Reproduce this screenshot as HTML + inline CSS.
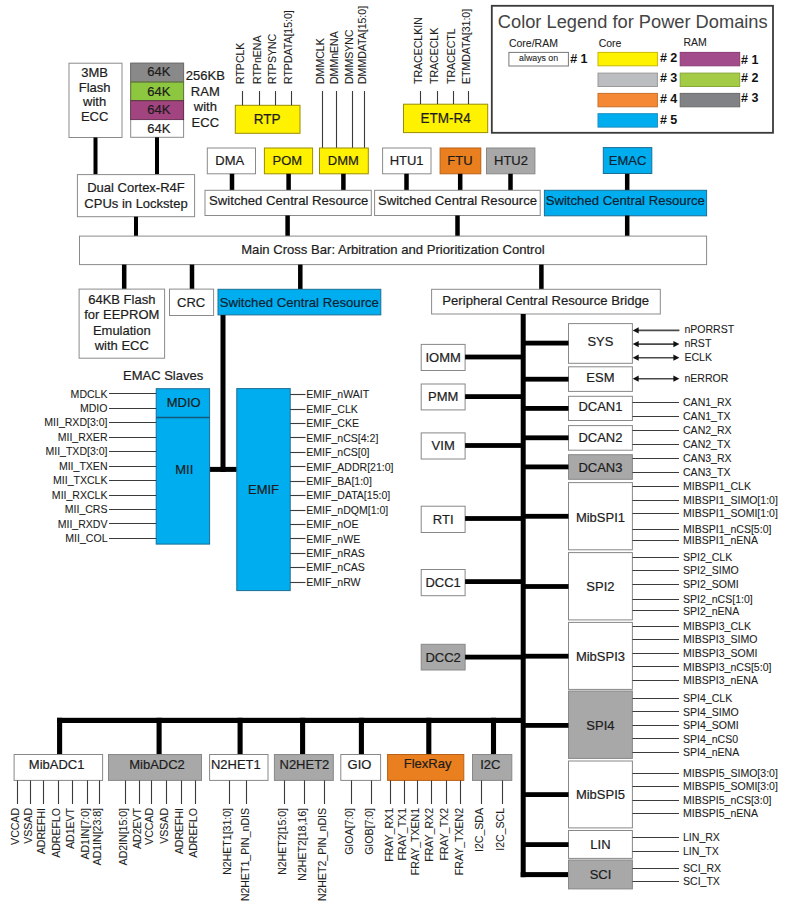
<!DOCTYPE html>
<html><head><meta charset="utf-8"><title>Block Diagram</title>
<style>
html,body{margin:0;padding:0;background:#fff;overflow:hidden;}
svg{display:block;font-family:"Liberation Sans",sans-serif;}
</style></head><body>
<svg width="788" height="905" viewBox="0 0 788 905">
<rect x="0" y="0" width="788" height="905" fill="#fff"/>
<rect x="69.0" y="63.2" width="53.0" height="74.3" fill="#ffffff" stroke="#8a8a8a" stroke-width="1"/>
<text transform="translate(94.60,76.60) scale(1.0,1.0)" font-size="13" text-anchor="middle" fill="#1c1c1c" stroke="#1c1c1c" stroke-width="0.2" >3MB</text>
<text transform="translate(94.60,91.60) scale(1.0,1.0)" font-size="13" text-anchor="middle" fill="#1c1c1c" stroke="#1c1c1c" stroke-width="0.2" >Flash</text>
<text transform="translate(94.60,106.00) scale(1.0,1.0)" font-size="13" text-anchor="middle" fill="#1c1c1c" stroke="#1c1c1c" stroke-width="0.2" >with</text>
<text transform="translate(94.60,121.00) scale(1.0,1.0)" font-size="13" text-anchor="middle" fill="#1c1c1c" stroke="#1c1c1c" stroke-width="0.2" >ECC</text>
<rect x="130.7" y="63.2" width="52.9" height="18.8" fill="#898989"/>
<rect x="130.7" y="82.0" width="52.9" height="18.7" fill="#8dc63f"/>
<rect x="130.7" y="100.7" width="52.9" height="18.9" fill="#a1447f"/>
<rect x="130.7" y="119.6" width="52.9" height="17.7" fill="#ffffff"/>
<rect x="130.7" y="63.2" width="52.9" height="74.1" fill="none" stroke="#8a8a8a" stroke-width="1"/>
<rect x="130.7" y="63.2" width="52.9" height="18.8" fill="none" stroke="#6a6a6a" stroke-width="0.9"/>
<rect x="130.7" y="82.0" width="52.9" height="18.7" fill="none" stroke="#5d7a2a" stroke-width="0.9"/>
<rect x="130.7" y="100.7" width="52.9" height="18.9" fill="none" stroke="#5e2449" stroke-width="0.9"/>
<text transform="translate(158.80,75.70) scale(1.0,1.0)" font-size="13" text-anchor="middle" fill="#1c1c1c" stroke="#1c1c1c" stroke-width="0.2" >64K</text>
<text transform="translate(158.80,95.60) scale(1.0,1.0)" font-size="13" text-anchor="middle" fill="#1c1c1c" stroke="#1c1c1c" stroke-width="0.2" >64K</text>
<text transform="translate(158.80,114.00) scale(1.0,1.0)" font-size="13" text-anchor="middle" fill="#1c1c1c" stroke="#1c1c1c" stroke-width="0.2" >64K</text>
<text transform="translate(158.80,132.60) scale(1.0,1.0)" font-size="13" text-anchor="middle" fill="#1c1c1c" stroke="#1c1c1c" stroke-width="0.2" >64K</text>
<text transform="translate(205.30,79.70) scale(1.0,1.0)" font-size="13" text-anchor="middle" fill="#1c1c1c" stroke="#1c1c1c" stroke-width="0.2" >256KB</text>
<text transform="translate(205.30,95.55) scale(1.0,1.0)" font-size="13" text-anchor="middle" fill="#1c1c1c" stroke="#1c1c1c" stroke-width="0.2" >RAM</text>
<text transform="translate(205.30,111.40) scale(1.0,1.0)" font-size="13" text-anchor="middle" fill="#1c1c1c" stroke="#1c1c1c" stroke-width="0.2" >with</text>
<text transform="translate(205.30,127.25) scale(1.0,1.0)" font-size="13" text-anchor="middle" fill="#1c1c1c" stroke="#1c1c1c" stroke-width="0.2" >ECC</text>
<rect x="93.50" y="137.5" width="4" height="37.1" fill="#000"/>
<rect x="155.00" y="137.3" width="4" height="37.3" fill="#000"/>
<rect x="77.4" y="174.6" width="117.2" height="42.1" fill="#ffffff" stroke="#8a8a8a" stroke-width="1"/>
<text transform="translate(136.00,191.70) scale(1.0,1.0)" font-size="13" text-anchor="middle" fill="#1c1c1c" stroke="#1c1c1c" stroke-width="0.2" >Dual Cortex-R4F</text>
<text transform="translate(136.00,207.90) scale(1.0,1.0)" font-size="13" text-anchor="middle" fill="#1c1c1c" stroke="#1c1c1c" stroke-width="0.2" >CPUs in Lockstep</text>
<rect x="134.00" y="216.7" width="4" height="19.4" fill="#000"/>
<rect x="235.3" y="105.3" width="64.7" height="28.0" fill="#fff200" stroke="#9a8c00" stroke-width="1"/>
<text transform="translate(267.20,123.80) scale(1.0,1.035)" font-size="13.5" text-anchor="middle" fill="#1c1c1c" stroke="#1c1c1c" stroke-width="0.2" >RTP</text>
<line x1="242.5" y1="91.0" x2="242.5" y2="105.3" stroke="#3a3a3a" stroke-width="1.1"/>
<text transform="translate(243.50,84.00) rotate(-90) scale(1,1.04)" font-size="10.55" text-anchor="start" fill="#1c1c1c" stroke="#1c1c1c" stroke-width="0.08">RTPCLK</text>
<line x1="259.5" y1="91.0" x2="259.5" y2="105.3" stroke="#3a3a3a" stroke-width="1.1"/>
<text transform="translate(260.50,84.00) rotate(-90) scale(1,1.04)" font-size="10.55" text-anchor="start" fill="#1c1c1c" stroke="#1c1c1c" stroke-width="0.08">RTPnENA</text>
<line x1="275.5" y1="91.0" x2="275.5" y2="105.3" stroke="#3a3a3a" stroke-width="1.1"/>
<text transform="translate(276.40,84.00) rotate(-90) scale(1,1.04)" font-size="10.55" text-anchor="start" fill="#1c1c1c" stroke="#1c1c1c" stroke-width="0.08">RTPSYNC</text>
<line x1="291.5" y1="91.0" x2="291.5" y2="105.3" stroke="#3a3a3a" stroke-width="1.1"/>
<text transform="translate(292.10,84.00) rotate(-90) scale(1,1.04)" font-size="10.55" text-anchor="start" fill="#1c1c1c" stroke="#1c1c1c" stroke-width="0.08">RTPDATA[15:0]</text>
<line x1="322.5" y1="91.0" x2="322.5" y2="148.0" stroke="#3a3a3a" stroke-width="1.1"/>
<text transform="translate(323.50,84.00) rotate(-90) scale(1,1.04)" font-size="10.55" text-anchor="start" fill="#1c1c1c" stroke="#1c1c1c" stroke-width="0.08">DMMCLK</text>
<line x1="336.5" y1="91.0" x2="336.5" y2="148.0" stroke="#3a3a3a" stroke-width="1.1"/>
<text transform="translate(337.70,84.00) rotate(-90) scale(1,1.04)" font-size="10.55" text-anchor="start" fill="#1c1c1c" stroke="#1c1c1c" stroke-width="0.08">DMMnENA</text>
<line x1="352.5" y1="91.0" x2="352.5" y2="148.0" stroke="#3a3a3a" stroke-width="1.1"/>
<text transform="translate(353.20,84.00) rotate(-90) scale(1,1.04)" font-size="10.55" text-anchor="start" fill="#1c1c1c" stroke="#1c1c1c" stroke-width="0.08">DMMSYNC</text>
<line x1="364.5" y1="91.0" x2="364.5" y2="148.0" stroke="#3a3a3a" stroke-width="1.1"/>
<text transform="translate(365.60,84.00) rotate(-90) scale(1,1.04)" font-size="10.55" text-anchor="start" fill="#1c1c1c" stroke="#1c1c1c" stroke-width="0.08">DMMDATA[15:0]</text>
<rect x="403.5" y="104.2" width="84.2" height="28.4" fill="#fff200" stroke="#9a8c00" stroke-width="1"/>
<text transform="translate(445.70,123.10) scale(1.0,1.035)" font-size="13.5" text-anchor="middle" fill="#1c1c1c" stroke="#1c1c1c" stroke-width="0.2" >ETM-R4</text>
<line x1="420.5" y1="91.0" x2="420.5" y2="104.0" stroke="#3a3a3a" stroke-width="1.1"/>
<text transform="translate(421.60,84.00) rotate(-90) scale(1,1.04)" font-size="10.55" text-anchor="start" fill="#1c1c1c" stroke="#1c1c1c" stroke-width="0.08">TRACECLKIN</text>
<line x1="437.5" y1="91.0" x2="437.5" y2="104.0" stroke="#3a3a3a" stroke-width="1.1"/>
<text transform="translate(438.40,84.00) rotate(-90) scale(1,1.04)" font-size="10.55" text-anchor="start" fill="#1c1c1c" stroke="#1c1c1c" stroke-width="0.08">TRACECLK</text>
<line x1="453.5" y1="91.0" x2="453.5" y2="104.0" stroke="#3a3a3a" stroke-width="1.1"/>
<text transform="translate(454.60,84.00) rotate(-90) scale(1,1.04)" font-size="10.55" text-anchor="start" fill="#1c1c1c" stroke="#1c1c1c" stroke-width="0.08">TRACECTL</text>
<line x1="468.5" y1="91.0" x2="468.5" y2="104.0" stroke="#3a3a3a" stroke-width="1.1"/>
<text transform="translate(469.80,84.00) rotate(-90) scale(1,1.04)" font-size="10.55" text-anchor="start" fill="#1c1c1c" stroke="#1c1c1c" stroke-width="0.08">ETMDATA[31:0]</text>
<rect x="491.8" y="5.8" width="281.2" height="127" fill="#fff" stroke="#3a3a3a" stroke-width="1.8"/>
<text transform="translate(497.80,28.10) scale(1.0,1.0)" font-size="18.25" text-anchor="start" fill="#444444" >Color Legend for Power Domains</text>
<text transform="translate(508.90,47.10) scale(1.0,1.04)" font-size="10.5" text-anchor="start" fill="#222" stroke="#222" stroke-width="0.08" >Core/RAM</text>
<text transform="translate(598.70,47.10) scale(1.0,1.04)" font-size="10.5" text-anchor="start" fill="#222" stroke="#222" stroke-width="0.08" >Core</text>
<text transform="translate(683.40,46.30) scale(1.0,1.04)" font-size="10.5" text-anchor="start" fill="#222" stroke="#222" stroke-width="0.08" >RAM</text>
<rect x="508.9" y="52.4" width="59.5" height="13.6" fill="#ffffff" stroke="#777" stroke-width="1"/>
<text transform="translate(538.60,61.40) scale(1.0,1.04)" font-size="8.8" text-anchor="middle" fill="#222" stroke="#222" stroke-width="0.08" >always on</text>
<text transform="translate(570.20,63.20) scale(1.0,1.0)" font-size="12.5" text-anchor="start" fill="#111" font-weight="bold"># 1</text>
<rect x="598.0" y="52.4" width="59.4" height="13.4" fill="#fff200" stroke="#c8b800" stroke-width="1"/>
<text transform="translate(659.90,62.40) scale(1.0,1.0)" font-size="12.5" text-anchor="start" fill="#111" font-weight="bold"># 2</text>
<rect x="598.0" y="73.1" width="59.4" height="13.4" fill="#bcbdc0" stroke="#9a9a9a" stroke-width="1"/>
<text transform="translate(659.90,82.20) scale(1.0,1.0)" font-size="12.5" text-anchor="start" fill="#111" font-weight="bold"># 3</text>
<rect x="598.0" y="93.4" width="59.4" height="13.4" fill="#f48835" stroke="#c8702a" stroke-width="1"/>
<text transform="translate(659.90,102.70) scale(1.0,1.0)" font-size="12.5" text-anchor="start" fill="#111" font-weight="bold"># 4</text>
<rect x="598.0" y="113.7" width="59.4" height="13.4" fill="#00aeef" stroke="#1b8cc0" stroke-width="1"/>
<text transform="translate(659.90,124.10) scale(1.0,1.0)" font-size="12.5" text-anchor="start" fill="#111" font-weight="bold"># 5</text>
<rect x="680.2" y="52.4" width="59.5" height="13.4" fill="#a34c8c" stroke="#8a3a74" stroke-width="1"/>
<text transform="translate(741.10,64.10) scale(1.0,1.0)" font-size="12.5" text-anchor="start" fill="#111" font-weight="bold"># 1</text>
<rect x="680.2" y="73.1" width="59.5" height="13.4" fill="#a4cb45" stroke="#86a838" stroke-width="1"/>
<text transform="translate(741.10,82.20) scale(1.0,1.0)" font-size="12.5" text-anchor="start" fill="#111" font-weight="bold"># 2</text>
<rect x="680.2" y="93.4" width="59.5" height="13.4" fill="#808285" stroke="#6a6a6a" stroke-width="1"/>
<text transform="translate(741.10,102.40) scale(1.0,1.0)" font-size="12.5" text-anchor="start" fill="#111" font-weight="bold"># 3</text>
<rect x="207.3" y="148.0" width="48.2" height="25.8" fill="#ffffff" stroke="#8a8a8a" stroke-width="1"/>
<text transform="translate(229.70,164.90) scale(1.0,1.035)" font-size="13" text-anchor="middle" fill="#1c1c1c" stroke="#1c1c1c" stroke-width="0.2" >DMA</text>
<rect x="264.4" y="148.0" width="48.2" height="25.8" fill="#fff200" stroke="#9a8c00" stroke-width="1"/>
<text transform="translate(287.40,164.90) scale(1.0,1.035)" font-size="13" text-anchor="middle" fill="#1c1c1c" stroke="#1c1c1c" stroke-width="0.2" >POM</text>
<rect x="319.5" y="148.0" width="48.8" height="25.8" fill="#fff200" stroke="#9a8c00" stroke-width="1"/>
<text transform="translate(343.30,164.90) scale(1.0,1.035)" font-size="13" text-anchor="middle" fill="#1c1c1c" stroke="#1c1c1c" stroke-width="0.2" >DMM</text>
<rect x="382.6" y="148.0" width="48.4" height="25.8" fill="#ffffff" stroke="#8a8a8a" stroke-width="1"/>
<text transform="translate(406.60,165.10) scale(1.0,1.035)" font-size="13" text-anchor="middle" fill="#1c1c1c" stroke="#1c1c1c" stroke-width="0.2" >HTU1</text>
<rect x="440.1" y="148.0" width="40.7" height="25.8" fill="#ea7f1f" stroke="#b86018" stroke-width="1"/>
<text transform="translate(459.90,165.10) scale(1.0,1.035)" font-size="13" text-anchor="middle" fill="#1c1c1c" stroke="#1c1c1c" stroke-width="0.2" >FTU</text>
<rect x="486.5" y="148.0" width="48.4" height="25.8" fill="#a8a8a8" stroke="#888" stroke-width="1"/>
<text transform="translate(511.00,165.10) scale(1.0,1.035)" font-size="13" text-anchor="middle" fill="#1c1c1c" stroke="#1c1c1c" stroke-width="0.2" >HTU2</text>
<rect x="603.3" y="147.6" width="48.5" height="25.9" fill="#00adee" stroke="#1a6e94" stroke-width="1"/>
<text transform="translate(627.50,164.80) scale(1.0,1.035)" font-size="13" text-anchor="middle" fill="#0c2232" stroke="#0c2232" stroke-width="0.2" >EMAC</text>
<rect x="229.75" y="173.8" width="4.5" height="16.5" fill="#000"/>
<rect x="286.35" y="173.8" width="4.5" height="16.5" fill="#000"/>
<rect x="341.15" y="173.8" width="4.5" height="16.5" fill="#000"/>
<rect x="404.25" y="173.8" width="4.5" height="16.5" fill="#000"/>
<rect x="457.95" y="173.8" width="4.5" height="16.5" fill="#000"/>
<rect x="508.25" y="173.8" width="4.5" height="16.5" fill="#000"/>
<rect x="624.95" y="173.8" width="4.5" height="16.5" fill="#000"/>
<rect x="205.0" y="190.3" width="166.3" height="25.2" fill="#ffffff" stroke="#8a8a8a" stroke-width="1"/>
<text transform="translate(288.70,205.10) scale(1.0,1.0)" font-size="13.15" text-anchor="middle" fill="#1c1c1c" stroke="#1c1c1c" stroke-width="0.2" >Switched Central Resource</text>
<rect x="374.6" y="190.3" width="165.6" height="25.2" fill="#ffffff" stroke="#8a8a8a" stroke-width="1"/>
<text transform="translate(457.50,205.10) scale(1.0,1.0)" font-size="13.15" text-anchor="middle" fill="#1c1c1c" stroke="#1c1c1c" stroke-width="0.2" >Switched Central Resource</text>
<rect x="544.4" y="190.3" width="162.2" height="25.5" fill="#00adee" stroke="#1a6e94" stroke-width="1"/>
<text transform="translate(625.30,205.00) scale(1.0,1.0)" font-size="13.15" text-anchor="middle" fill="#0c2232" stroke="#0c2232" stroke-width="0.2" >Switched Central Resource</text>
<rect x="285.35" y="215.5" width="4.5" height="20.6" fill="#000"/>
<rect x="455.25" y="215.5" width="4.5" height="20.6" fill="#000"/>
<rect x="624.95" y="215.5" width="4.5" height="20.6" fill="#000"/>
<rect x="79.5" y="236.1" width="627.1" height="28.5" fill="#ffffff" stroke="#8a8a8a" stroke-width="1"/>
<text transform="translate(241.20,254.00) scale(1.0,1.0)" font-size="13.1" text-anchor="start" fill="#1c1c1c" stroke="#1c1c1c" stroke-width="0.2" >Main Cross Bar: Arbitration and Prioritization Control</text>
<rect x="121.95" y="264.6" width="4.5" height="24.7" fill="#000"/>
<rect x="189.75" y="264.6" width="4.5" height="24.7" fill="#000"/>
<rect x="298.05" y="264.6" width="4.5" height="24.7" fill="#000"/>
<rect x="539.15" y="264.6" width="4.5" height="24.7" fill="#000"/>
<rect x="79.1" y="289.1" width="85.5" height="69.1" fill="#ffffff" stroke="#8a8a8a" stroke-width="1"/>
<text transform="translate(121.80,304.00) scale(1.0,1.0)" font-size="13" text-anchor="middle" fill="#1c1c1c" stroke="#1c1c1c" stroke-width="0.2" >64KB Flash</text>
<text transform="translate(121.80,319.33) scale(1.0,1.0)" font-size="13" text-anchor="middle" fill="#1c1c1c" stroke="#1c1c1c" stroke-width="0.2" >for EEPROM</text>
<text transform="translate(121.80,334.66) scale(1.0,1.0)" font-size="13" text-anchor="middle" fill="#1c1c1c" stroke="#1c1c1c" stroke-width="0.2" >Emulation</text>
<text transform="translate(121.80,349.99) scale(1.0,1.0)" font-size="13" text-anchor="middle" fill="#1c1c1c" stroke="#1c1c1c" stroke-width="0.2" >with ECC</text>
<rect x="169.5" y="289.1" width="44.1" height="26.4" fill="#ffffff" stroke="#8a8a8a" stroke-width="1"/>
<text transform="translate(191.10,307.30) scale(1.0,1.035)" font-size="13" text-anchor="middle" fill="#1c1c1c" stroke="#1c1c1c" stroke-width="0.2" >CRC</text>
<rect x="218.0" y="289.3" width="162.8" height="25.6" fill="#00adee" stroke="#1a6e94" stroke-width="1"/>
<text transform="translate(299.30,307.30) scale(1.0,1.0)" font-size="13.15" text-anchor="middle" fill="#0c2232" stroke="#0c2232" stroke-width="0.2" >Switched Central Resource</text>
<rect x="431.6" y="289.3" width="228.7" height="24.7" fill="#ffffff" stroke="#8a8a8a" stroke-width="1"/>
<text transform="translate(545.70,304.80) scale(1.0,1.0)" font-size="13.1" text-anchor="middle" fill="#1c1c1c" stroke="#1c1c1c" stroke-width="0.2" >Peripheral Central Resource Bridge</text>
<rect x="220.50" y="315.1" width="5" height="156.9" fill="#000"/>
<rect x="209.6" y="466.90" width="27.2" height="5" fill="#000"/>
<text transform="translate(123.00,379.80) scale(1.0,1.0)" font-size="13" text-anchor="start" fill="#1c1c1c" stroke="#1c1c1c" stroke-width="0.2" >EMAC Slaves</text>
<rect x="156.2" y="388.7" width="53.4" height="155.4" fill="#00adee" stroke="#1a6e94" stroke-width="1"/>
<line x1="156.2" y1="417.5" x2="209.6" y2="417.5" stroke="#155a78" stroke-width="1.5"/>
<text transform="translate(183.70,407.00) scale(1.0,1.0)" font-size="13" text-anchor="middle" fill="#1c1c1c" stroke="#1c1c1c" stroke-width="0.2" >MDIO</text>
<text transform="translate(184.30,474.20) scale(1.0,1.0)" font-size="13" text-anchor="middle" fill="#1c1c1c" stroke="#1c1c1c" stroke-width="0.2" >MII</text>
<line x1="109.0" y1="393.5" x2="156.2" y2="393.5" stroke="#3a3a3a" stroke-width="1.1"/>
<text transform="translate(107.50,397.50) scale(1.0,1.04)" font-size="10.55" text-anchor="end" fill="#1c1c1c" stroke="#1c1c1c" stroke-width="0.08" >MDCLK</text>
<line x1="109.0" y1="408.5" x2="156.2" y2="408.5" stroke="#3a3a3a" stroke-width="1.1"/>
<text transform="translate(107.50,411.96) scale(1.0,1.04)" font-size="10.55" text-anchor="end" fill="#1c1c1c" stroke="#1c1c1c" stroke-width="0.08" >MDIO</text>
<line x1="109.0" y1="422.5" x2="156.2" y2="422.5" stroke="#3a3a3a" stroke-width="1.1"/>
<text transform="translate(107.50,426.42) scale(1.0,1.04)" font-size="10.55" text-anchor="end" fill="#1c1c1c" stroke="#1c1c1c" stroke-width="0.08" >MII_RXD[3:0]</text>
<line x1="109.0" y1="437.5" x2="156.2" y2="437.5" stroke="#3a3a3a" stroke-width="1.1"/>
<text transform="translate(107.50,440.88) scale(1.0,1.04)" font-size="10.55" text-anchor="end" fill="#1c1c1c" stroke="#1c1c1c" stroke-width="0.08" >MII_RXER</text>
<line x1="109.0" y1="451.5" x2="156.2" y2="451.5" stroke="#3a3a3a" stroke-width="1.1"/>
<text transform="translate(107.50,455.34) scale(1.0,1.04)" font-size="10.55" text-anchor="end" fill="#1c1c1c" stroke="#1c1c1c" stroke-width="0.08" >MII_TXD[3:0]</text>
<line x1="109.0" y1="466.5" x2="156.2" y2="466.5" stroke="#3a3a3a" stroke-width="1.1"/>
<text transform="translate(107.50,469.80) scale(1.0,1.04)" font-size="10.55" text-anchor="end" fill="#1c1c1c" stroke="#1c1c1c" stroke-width="0.08" >MII_TXEN</text>
<line x1="109.0" y1="480.5" x2="156.2" y2="480.5" stroke="#3a3a3a" stroke-width="1.1"/>
<text transform="translate(107.50,484.26) scale(1.0,1.04)" font-size="10.55" text-anchor="end" fill="#1c1c1c" stroke="#1c1c1c" stroke-width="0.08" >MII_TXCLK</text>
<line x1="109.0" y1="495.5" x2="156.2" y2="495.5" stroke="#3a3a3a" stroke-width="1.1"/>
<text transform="translate(107.50,498.72) scale(1.0,1.04)" font-size="10.55" text-anchor="end" fill="#1c1c1c" stroke="#1c1c1c" stroke-width="0.08" >MII_RXCLK</text>
<line x1="109.0" y1="509.5" x2="156.2" y2="509.5" stroke="#3a3a3a" stroke-width="1.1"/>
<text transform="translate(107.50,513.18) scale(1.0,1.04)" font-size="10.55" text-anchor="end" fill="#1c1c1c" stroke="#1c1c1c" stroke-width="0.08" >MII_CRS</text>
<line x1="109.0" y1="523.5" x2="156.2" y2="523.5" stroke="#3a3a3a" stroke-width="1.1"/>
<text transform="translate(107.50,527.64) scale(1.0,1.04)" font-size="10.55" text-anchor="end" fill="#1c1c1c" stroke="#1c1c1c" stroke-width="0.08" >MII_RXDV</text>
<line x1="109.0" y1="538.5" x2="156.2" y2="538.5" stroke="#3a3a3a" stroke-width="1.1"/>
<text transform="translate(107.50,542.10) scale(1.0,1.04)" font-size="10.55" text-anchor="end" fill="#1c1c1c" stroke="#1c1c1c" stroke-width="0.08" >MII_COL</text>
<rect x="236.8" y="388.6" width="53.4" height="202.0" fill="#00adee" stroke="#1a6e94" stroke-width="1"/>
<text transform="translate(263.50,493.80) scale(1.0,1.0)" font-size="13" text-anchor="middle" fill="#1c1c1c" stroke="#1c1c1c" stroke-width="0.2" >EMIF</text>
<line x1="290.2" y1="394.5" x2="305.5" y2="394.5" stroke="#3a3a3a" stroke-width="1.1"/>
<text transform="translate(306.30,398.40) scale(1.0,1.04)" font-size="10.55" text-anchor="start" fill="#1c1c1c" stroke="#1c1c1c" stroke-width="0.08" >EMIF_nWAIT</text>
<line x1="290.2" y1="409.5" x2="305.5" y2="409.5" stroke="#3a3a3a" stroke-width="1.1"/>
<text transform="translate(306.30,412.82) scale(1.0,1.04)" font-size="10.55" text-anchor="start" fill="#1c1c1c" stroke="#1c1c1c" stroke-width="0.08" >EMIF_CLK</text>
<line x1="290.2" y1="423.5" x2="305.5" y2="423.5" stroke="#3a3a3a" stroke-width="1.1"/>
<text transform="translate(306.30,427.24) scale(1.0,1.04)" font-size="10.55" text-anchor="start" fill="#1c1c1c" stroke="#1c1c1c" stroke-width="0.08" >EMIF_CKE</text>
<line x1="290.2" y1="437.5" x2="305.5" y2="437.5" stroke="#3a3a3a" stroke-width="1.1"/>
<text transform="translate(306.30,441.66) scale(1.0,1.04)" font-size="10.55" text-anchor="start" fill="#1c1c1c" stroke="#1c1c1c" stroke-width="0.08" >EMIF_nCS[4:2]</text>
<line x1="290.2" y1="452.5" x2="305.5" y2="452.5" stroke="#3a3a3a" stroke-width="1.1"/>
<text transform="translate(306.30,456.08) scale(1.0,1.04)" font-size="10.55" text-anchor="start" fill="#1c1c1c" stroke="#1c1c1c" stroke-width="0.08" >EMIF_nCS[0]</text>
<line x1="290.2" y1="466.5" x2="305.5" y2="466.5" stroke="#3a3a3a" stroke-width="1.1"/>
<text transform="translate(306.30,470.50) scale(1.0,1.04)" font-size="10.55" text-anchor="start" fill="#1c1c1c" stroke="#1c1c1c" stroke-width="0.08" >EMIF_ADDR[21:0]</text>
<line x1="290.2" y1="481.5" x2="305.5" y2="481.5" stroke="#3a3a3a" stroke-width="1.1"/>
<text transform="translate(306.30,484.92) scale(1.0,1.04)" font-size="10.55" text-anchor="start" fill="#1c1c1c" stroke="#1c1c1c" stroke-width="0.08" >EMIF_BA[1:0]</text>
<line x1="290.2" y1="495.5" x2="305.5" y2="495.5" stroke="#3a3a3a" stroke-width="1.1"/>
<text transform="translate(306.30,499.34) scale(1.0,1.04)" font-size="10.55" text-anchor="start" fill="#1c1c1c" stroke="#1c1c1c" stroke-width="0.08" >EMIF_DATA[15:0]</text>
<line x1="290.2" y1="510.5" x2="305.5" y2="510.5" stroke="#3a3a3a" stroke-width="1.1"/>
<text transform="translate(306.30,513.76) scale(1.0,1.04)" font-size="10.55" text-anchor="start" fill="#1c1c1c" stroke="#1c1c1c" stroke-width="0.08" >EMIF_nDQM[1:0]</text>
<line x1="290.2" y1="524.5" x2="305.5" y2="524.5" stroke="#3a3a3a" stroke-width="1.1"/>
<text transform="translate(306.30,528.18) scale(1.0,1.04)" font-size="10.55" text-anchor="start" fill="#1c1c1c" stroke="#1c1c1c" stroke-width="0.08" >EMIF_nOE</text>
<line x1="290.2" y1="538.5" x2="305.5" y2="538.5" stroke="#3a3a3a" stroke-width="1.1"/>
<text transform="translate(306.30,542.60) scale(1.0,1.04)" font-size="10.55" text-anchor="start" fill="#1c1c1c" stroke="#1c1c1c" stroke-width="0.08" >EMIF_nWE</text>
<line x1="290.2" y1="553.5" x2="305.5" y2="553.5" stroke="#3a3a3a" stroke-width="1.1"/>
<text transform="translate(306.30,557.02) scale(1.0,1.04)" font-size="10.55" text-anchor="start" fill="#1c1c1c" stroke="#1c1c1c" stroke-width="0.08" >EMIF_nRAS</text>
<line x1="290.2" y1="567.5" x2="305.5" y2="567.5" stroke="#3a3a3a" stroke-width="1.1"/>
<text transform="translate(306.30,571.44) scale(1.0,1.04)" font-size="10.55" text-anchor="start" fill="#1c1c1c" stroke="#1c1c1c" stroke-width="0.08" >EMIF_nCAS</text>
<line x1="290.2" y1="582.5" x2="305.5" y2="582.5" stroke="#3a3a3a" stroke-width="1.1"/>
<text transform="translate(306.30,585.86) scale(1.0,1.04)" font-size="10.55" text-anchor="start" fill="#1c1c1c" stroke="#1c1c1c" stroke-width="0.08" >EMIF_nRW</text>
<rect x="520.70" y="314.0" width="5.0" height="563.2" fill="#000"/>
<rect x="520.7" y="872.10" width="47.8" height="5.0" fill="#000"/>
<rect x="421.2" y="344.4" width="43.9" height="26.1" fill="#ffffff" stroke="#888" stroke-width="1"/>
<text transform="translate(443.15,362.10) scale(1.0,1.035)" font-size="13" text-anchor="middle" fill="#1c1c1c" stroke="#1c1c1c" stroke-width="0.2" >IOMM</text>
<rect x="465.1" y="354.60" width="58.1" height="4.8" fill="#000"/>
<rect x="421.2" y="384.0" width="43.9" height="25.9" fill="#ffffff" stroke="#888" stroke-width="1"/>
<text transform="translate(443.15,400.80) scale(1.0,1.035)" font-size="13" text-anchor="middle" fill="#1c1c1c" stroke="#1c1c1c" stroke-width="0.2" >PMM</text>
<rect x="465.1" y="394.20" width="58.1" height="4.8" fill="#000"/>
<rect x="421.2" y="432.9" width="43.9" height="26.1" fill="#ffffff" stroke="#888" stroke-width="1"/>
<text transform="translate(443.15,450.30) scale(1.0,1.035)" font-size="13" text-anchor="middle" fill="#1c1c1c" stroke="#1c1c1c" stroke-width="0.2" >VIM</text>
<rect x="465.1" y="443.10" width="58.1" height="4.8" fill="#000"/>
<rect x="421.2" y="506.2" width="43.9" height="26.3" fill="#ffffff" stroke="#888" stroke-width="1"/>
<text transform="translate(443.15,523.80) scale(1.0,1.035)" font-size="13" text-anchor="middle" fill="#1c1c1c" stroke="#1c1c1c" stroke-width="0.2" >RTI</text>
<rect x="465.1" y="516.10" width="58.1" height="4.8" fill="#000"/>
<rect x="421.2" y="569.5" width="43.9" height="26.2" fill="#ffffff" stroke="#888" stroke-width="1"/>
<text transform="translate(443.15,587.10) scale(1.0,1.035)" font-size="13" text-anchor="middle" fill="#1c1c1c" stroke="#1c1c1c" stroke-width="0.2" >DCC1</text>
<rect x="465.1" y="579.20" width="58.1" height="4.8" fill="#000"/>
<rect x="421.2" y="644.3" width="43.9" height="25.7" fill="#a8a8a8" stroke="#888" stroke-width="1"/>
<text transform="translate(443.15,661.60) scale(1.0,1.035)" font-size="13" text-anchor="middle" fill="#1c1c1c" stroke="#1c1c1c" stroke-width="0.2" >DCC2</text>
<rect x="465.1" y="654.70" width="58.1" height="4.8" fill="#000"/>
<rect x="568.5" y="323.6" width="63.9" height="39.7" fill="#ffffff" stroke="#888" stroke-width="1"/>
<text transform="translate(600.45,345.50) scale(1.0,1.035)" font-size="13" text-anchor="middle" fill="#1c1c1c" stroke="#1c1c1c" stroke-width="0.2" >SYS</text>
<rect x="523.2" y="340.70" width="45.3" height="4.8" fill="#000"/>
<rect x="568.5" y="366.8" width="63.9" height="24.6" fill="#ffffff" stroke="#888" stroke-width="1"/>
<text transform="translate(600.45,382.00) scale(1.0,1.035)" font-size="13" text-anchor="middle" fill="#1c1c1c" stroke="#1c1c1c" stroke-width="0.2" >ESM</text>
<rect x="523.2" y="376.80" width="45.3" height="4.8" fill="#000"/>
<rect x="568.5" y="396.3" width="63.9" height="24.2" fill="#ffffff" stroke="#888" stroke-width="1"/>
<text transform="translate(600.45,410.80) scale(1.0,1.035)" font-size="13" text-anchor="middle" fill="#1c1c1c" stroke="#1c1c1c" stroke-width="0.2" >DCAN1</text>
<rect x="523.2" y="406.00" width="45.3" height="4.8" fill="#000"/>
<line x1="632.4" y1="402.5" x2="679.0" y2="402.5" stroke="#3a3a3a" stroke-width="1.1"/>
<text transform="translate(683.00,406.10) scale(1.0,1.04)" font-size="10.55" text-anchor="start" fill="#1c1c1c" stroke="#1c1c1c" stroke-width="0.08" >CAN1_RX</text>
<line x1="632.4" y1="416.5" x2="679.0" y2="416.5" stroke="#3a3a3a" stroke-width="1.1"/>
<text transform="translate(683.00,419.70) scale(1.0,1.04)" font-size="10.55" text-anchor="start" fill="#1c1c1c" stroke="#1c1c1c" stroke-width="0.08" >CAN1_TX</text>
<rect x="568.5" y="425.6" width="63.9" height="24.6" fill="#ffffff" stroke="#888" stroke-width="1"/>
<text transform="translate(600.45,441.90) scale(1.0,1.035)" font-size="13" text-anchor="middle" fill="#1c1c1c" stroke="#1c1c1c" stroke-width="0.2" >DCAN2</text>
<rect x="523.2" y="435.40" width="45.3" height="4.8" fill="#000"/>
<line x1="632.4" y1="430.5" x2="679.0" y2="430.5" stroke="#3a3a3a" stroke-width="1.1"/>
<text transform="translate(683.00,433.90) scale(1.0,1.04)" font-size="10.55" text-anchor="start" fill="#1c1c1c" stroke="#1c1c1c" stroke-width="0.08" >CAN2_RX</text>
<line x1="632.4" y1="444.5" x2="679.0" y2="444.5" stroke="#3a3a3a" stroke-width="1.1"/>
<text transform="translate(683.00,447.90) scale(1.0,1.04)" font-size="10.55" text-anchor="start" fill="#1c1c1c" stroke="#1c1c1c" stroke-width="0.08" >CAN2_TX</text>
<rect x="568.5" y="454.7" width="63.9" height="24.6" fill="#a8a8a8" stroke="#888" stroke-width="1"/>
<text transform="translate(600.45,471.50) scale(1.0,1.035)" font-size="13" text-anchor="middle" fill="#1c1c1c" stroke="#1c1c1c" stroke-width="0.2" >DCAN3</text>
<rect x="523.2" y="464.50" width="45.3" height="4.8" fill="#000"/>
<line x1="632.4" y1="458.5" x2="679.0" y2="458.5" stroke="#3a3a3a" stroke-width="1.1"/>
<text transform="translate(683.00,462.20) scale(1.0,1.04)" font-size="10.55" text-anchor="start" fill="#1c1c1c" stroke="#1c1c1c" stroke-width="0.08" >CAN3_RX</text>
<line x1="632.4" y1="472.5" x2="679.0" y2="472.5" stroke="#3a3a3a" stroke-width="1.1"/>
<text transform="translate(683.00,476.10) scale(1.0,1.04)" font-size="10.55" text-anchor="start" fill="#1c1c1c" stroke="#1c1c1c" stroke-width="0.08" >CAN3_TX</text>
<rect x="568.5" y="482.6" width="63.9" height="67.2" fill="#ffffff" stroke="#888" stroke-width="1"/>
<text transform="translate(600.45,521.50) scale(1.0,1.035)" font-size="13" text-anchor="middle" fill="#1c1c1c" stroke="#1c1c1c" stroke-width="0.2" >MibSPI1</text>
<rect x="523.2" y="513.90" width="45.3" height="4.8" fill="#000"/>
<line x1="632.4" y1="486.5" x2="679.0" y2="486.5" stroke="#3a3a3a" stroke-width="1.1"/>
<text transform="translate(683.00,490.30) scale(1.0,1.04)" font-size="10.55" text-anchor="start" fill="#1c1c1c" stroke="#1c1c1c" stroke-width="0.08" >MIBSPI1_CLK</text>
<line x1="632.4" y1="500.5" x2="679.0" y2="500.5" stroke="#3a3a3a" stroke-width="1.1"/>
<text transform="translate(683.00,503.80) scale(1.0,1.04)" font-size="10.55" text-anchor="start" fill="#1c1c1c" stroke="#1c1c1c" stroke-width="0.08" >MIBSPI1_SIMO[1:0]</text>
<line x1="632.4" y1="513.5" x2="679.0" y2="513.5" stroke="#3a3a3a" stroke-width="1.1"/>
<text transform="translate(683.00,517.40) scale(1.0,1.04)" font-size="10.55" text-anchor="start" fill="#1c1c1c" stroke="#1c1c1c" stroke-width="0.08" >MIBSPI1_SOMI[1:0]</text>
<line x1="632.4" y1="529.5" x2="679.0" y2="529.5" stroke="#3a3a3a" stroke-width="1.1"/>
<text transform="translate(683.00,533.10) scale(1.0,1.04)" font-size="10.55" text-anchor="start" fill="#1c1c1c" stroke="#1c1c1c" stroke-width="0.08" >MIBSPI1_nCS[5:0]</text>
<line x1="632.4" y1="540.5" x2="679.0" y2="540.5" stroke="#3a3a3a" stroke-width="1.1"/>
<text transform="translate(683.00,544.30) scale(1.0,1.04)" font-size="10.55" text-anchor="start" fill="#1c1c1c" stroke="#1c1c1c" stroke-width="0.08" >MIBSPI1_nENA</text>
<rect x="568.5" y="552.6" width="63.9" height="67.3" fill="#ffffff" stroke="#888" stroke-width="1"/>
<text transform="translate(600.45,590.50) scale(1.0,1.035)" font-size="13" text-anchor="middle" fill="#1c1c1c" stroke="#1c1c1c" stroke-width="0.2" >SPI2</text>
<rect x="523.2" y="584.10" width="45.3" height="4.8" fill="#000"/>
<line x1="632.4" y1="557.5" x2="679.0" y2="557.5" stroke="#3a3a3a" stroke-width="1.1"/>
<text transform="translate(683.00,560.70) scale(1.0,1.04)" font-size="10.55" text-anchor="start" fill="#1c1c1c" stroke="#1c1c1c" stroke-width="0.08" >SPI2_CLK</text>
<line x1="632.4" y1="570.5" x2="679.0" y2="570.5" stroke="#3a3a3a" stroke-width="1.1"/>
<text transform="translate(683.00,573.70) scale(1.0,1.04)" font-size="10.55" text-anchor="start" fill="#1c1c1c" stroke="#1c1c1c" stroke-width="0.08" >SPI2_SIMO</text>
<line x1="632.4" y1="584.5" x2="679.0" y2="584.5" stroke="#3a3a3a" stroke-width="1.1"/>
<text transform="translate(683.00,587.70) scale(1.0,1.04)" font-size="10.55" text-anchor="start" fill="#1c1c1c" stroke="#1c1c1c" stroke-width="0.08" >SPI2_SOMI</text>
<line x1="632.4" y1="599.5" x2="679.0" y2="599.5" stroke="#3a3a3a" stroke-width="1.1"/>
<text transform="translate(683.00,603.10) scale(1.0,1.04)" font-size="10.55" text-anchor="start" fill="#1c1c1c" stroke="#1c1c1c" stroke-width="0.08" >SPI2_nCS[1:0]</text>
<line x1="632.4" y1="610.5" x2="679.0" y2="610.5" stroke="#3a3a3a" stroke-width="1.1"/>
<text transform="translate(683.00,614.50) scale(1.0,1.04)" font-size="10.55" text-anchor="start" fill="#1c1c1c" stroke="#1c1c1c" stroke-width="0.08" >SPI2_nENA</text>
<rect x="568.5" y="622.4" width="63.9" height="67.0" fill="#ffffff" stroke="#888" stroke-width="1"/>
<text transform="translate(600.45,660.50) scale(1.0,1.035)" font-size="13" text-anchor="middle" fill="#1c1c1c" stroke="#1c1c1c" stroke-width="0.2" >MibSPI3</text>
<rect x="523.2" y="653.80" width="45.3" height="4.8" fill="#000"/>
<line x1="632.4" y1="626.5" x2="679.0" y2="626.5" stroke="#3a3a3a" stroke-width="1.1"/>
<text transform="translate(683.00,630.00) scale(1.0,1.04)" font-size="10.55" text-anchor="start" fill="#1c1c1c" stroke="#1c1c1c" stroke-width="0.08" >MIBSPI3_CLK</text>
<line x1="632.4" y1="639.5" x2="679.0" y2="639.5" stroke="#3a3a3a" stroke-width="1.1"/>
<text transform="translate(683.00,643.30) scale(1.0,1.04)" font-size="10.55" text-anchor="start" fill="#1c1c1c" stroke="#1c1c1c" stroke-width="0.08" >MIBSPI3_SIMO</text>
<line x1="632.4" y1="653.5" x2="679.0" y2="653.5" stroke="#3a3a3a" stroke-width="1.1"/>
<text transform="translate(683.00,656.90) scale(1.0,1.04)" font-size="10.55" text-anchor="start" fill="#1c1c1c" stroke="#1c1c1c" stroke-width="0.08" >MIBSPI3_SOMI</text>
<line x1="632.4" y1="666.5" x2="679.0" y2="666.5" stroke="#3a3a3a" stroke-width="1.1"/>
<text transform="translate(683.00,670.60) scale(1.0,1.04)" font-size="10.55" text-anchor="start" fill="#1c1c1c" stroke="#1c1c1c" stroke-width="0.08" >MIBSPI3_nCS[5:0]</text>
<line x1="632.4" y1="680.5" x2="679.0" y2="680.5" stroke="#3a3a3a" stroke-width="1.1"/>
<text transform="translate(683.00,684.00) scale(1.0,1.04)" font-size="10.55" text-anchor="start" fill="#1c1c1c" stroke="#1c1c1c" stroke-width="0.08" >MIBSPI3_nENA</text>
<rect x="568.5" y="691.0" width="63.9" height="67.4" fill="#a8a8a8" stroke="#888" stroke-width="1"/>
<text transform="translate(600.45,730.00) scale(1.0,1.035)" font-size="13" text-anchor="middle" fill="#1c1c1c" stroke="#1c1c1c" stroke-width="0.2" >SPI4</text>
<rect x="523.2" y="723.00" width="45.3" height="4.8" fill="#000"/>
<line x1="632.4" y1="698.5" x2="679.0" y2="698.5" stroke="#3a3a3a" stroke-width="1.1"/>
<text transform="translate(683.00,702.30) scale(1.0,1.04)" font-size="10.55" text-anchor="start" fill="#1c1c1c" stroke="#1c1c1c" stroke-width="0.08" >SPI4_CLK</text>
<line x1="632.4" y1="711.5" x2="679.0" y2="711.5" stroke="#3a3a3a" stroke-width="1.1"/>
<text transform="translate(683.00,715.60) scale(1.0,1.04)" font-size="10.55" text-anchor="start" fill="#1c1c1c" stroke="#1c1c1c" stroke-width="0.08" >SPI4_SIMO</text>
<line x1="632.4" y1="725.5" x2="679.0" y2="725.5" stroke="#3a3a3a" stroke-width="1.1"/>
<text transform="translate(683.00,729.20) scale(1.0,1.04)" font-size="10.55" text-anchor="start" fill="#1c1c1c" stroke="#1c1c1c" stroke-width="0.08" >SPI4_SOMI</text>
<line x1="632.4" y1="738.5" x2="679.0" y2="738.5" stroke="#3a3a3a" stroke-width="1.1"/>
<text transform="translate(683.00,742.60) scale(1.0,1.04)" font-size="10.55" text-anchor="start" fill="#1c1c1c" stroke="#1c1c1c" stroke-width="0.08" >SPI4_nCS0</text>
<line x1="632.4" y1="752.5" x2="679.0" y2="752.5" stroke="#3a3a3a" stroke-width="1.1"/>
<text transform="translate(683.00,756.10) scale(1.0,1.04)" font-size="10.55" text-anchor="start" fill="#1c1c1c" stroke="#1c1c1c" stroke-width="0.08" >SPI4_nENA</text>
<rect x="568.5" y="761.0" width="63.9" height="66.9" fill="#ffffff" stroke="#888" stroke-width="1"/>
<text transform="translate(600.45,798.60) scale(1.0,1.035)" font-size="13" text-anchor="middle" fill="#1c1c1c" stroke="#1c1c1c" stroke-width="0.2" >MibSPI5</text>
<rect x="523.2" y="792.20" width="45.3" height="4.8" fill="#000"/>
<line x1="632.4" y1="773.5" x2="679.0" y2="773.5" stroke="#3a3a3a" stroke-width="1.1"/>
<text transform="translate(683.00,776.70) scale(1.0,1.04)" font-size="10.55" text-anchor="start" fill="#1c1c1c" stroke="#1c1c1c" stroke-width="0.08" >MIBSPI5_SIMO[3:0]</text>
<line x1="632.4" y1="786.5" x2="679.0" y2="786.5" stroke="#3a3a3a" stroke-width="1.1"/>
<text transform="translate(683.00,789.90) scale(1.0,1.04)" font-size="10.55" text-anchor="start" fill="#1c1c1c" stroke="#1c1c1c" stroke-width="0.08" >MIBSPI5_SOMI[3:0]</text>
<line x1="632.4" y1="800.5" x2="679.0" y2="800.5" stroke="#3a3a3a" stroke-width="1.1"/>
<text transform="translate(683.00,803.80) scale(1.0,1.04)" font-size="10.55" text-anchor="start" fill="#1c1c1c" stroke="#1c1c1c" stroke-width="0.08" >MIBSPI5_nCS[3:0]</text>
<line x1="632.4" y1="813.5" x2="679.0" y2="813.5" stroke="#3a3a3a" stroke-width="1.1"/>
<text transform="translate(683.00,817.20) scale(1.0,1.04)" font-size="10.55" text-anchor="start" fill="#1c1c1c" stroke="#1c1c1c" stroke-width="0.08" >MIBSPI5_nENA</text>
<rect x="568.5" y="830.5" width="63.9" height="27.9" fill="#ffffff" stroke="#888" stroke-width="1"/>
<text transform="translate(600.45,848.80) scale(1.0,1.035)" font-size="13" text-anchor="middle" fill="#1c1c1c" stroke="#1c1c1c" stroke-width="0.2" >LIN</text>
<rect x="523.2" y="842.20" width="45.3" height="4.8" fill="#000"/>
<line x1="632.4" y1="837.5" x2="679.0" y2="837.5" stroke="#3a3a3a" stroke-width="1.1"/>
<text transform="translate(683.00,841.20) scale(1.0,1.04)" font-size="10.55" text-anchor="start" fill="#1c1c1c" stroke="#1c1c1c" stroke-width="0.08" >LIN_RX</text>
<line x1="632.4" y1="851.5" x2="679.0" y2="851.5" stroke="#3a3a3a" stroke-width="1.1"/>
<text transform="translate(683.00,854.70) scale(1.0,1.04)" font-size="10.55" text-anchor="start" fill="#1c1c1c" stroke="#1c1c1c" stroke-width="0.08" >LIN_TX</text>
<rect x="568.5" y="860.0" width="63.9" height="28.9" fill="#a8a8a8" stroke="#888" stroke-width="1"/>
<text transform="translate(600.45,878.70) scale(1.0,1.035)" font-size="13" text-anchor="middle" fill="#1c1c1c" stroke="#1c1c1c" stroke-width="0.2" >SCI</text>
<line x1="632.4" y1="868.5" x2="679.0" y2="868.5" stroke="#3a3a3a" stroke-width="1.1"/>
<text transform="translate(683.00,872.10) scale(1.0,1.04)" font-size="10.55" text-anchor="start" fill="#1c1c1c" stroke="#1c1c1c" stroke-width="0.08" >SCI_RX</text>
<line x1="632.4" y1="881.5" x2="679.0" y2="881.5" stroke="#3a3a3a" stroke-width="1.1"/>
<text transform="translate(683.00,885.40) scale(1.0,1.04)" font-size="10.55" text-anchor="start" fill="#1c1c1c" stroke="#1c1c1c" stroke-width="0.08" >SCI_TX</text>
<line x1="636.7" y1="330.4" x2="679.4" y2="330.4" stroke="#4a4a4a" stroke-width="1.6"/>
<path d="M632.7,330.4 l6,-3.1 v6.2 z" fill="#111"/>
<line x1="636.7" y1="344.1" x2="675.4" y2="344.1" stroke="#4a4a4a" stroke-width="1.6"/>
<path d="M632.7,344.1 l6,-3.1 v6.2 z" fill="#111"/>
<path d="M679.4,344.1 l-6,-3.1 v6.2 z" fill="#111"/>
<line x1="636.7" y1="357.7" x2="675.4" y2="357.7" stroke="#4a4a4a" stroke-width="1.6"/>
<path d="M632.7,357.7 l6,-3.1 v6.2 z" fill="#111"/>
<path d="M679.4,357.7 l-6,-3.1 v6.2 z" fill="#111"/>
<line x1="636.7" y1="378.7" x2="675.4" y2="378.7" stroke="#4a4a4a" stroke-width="1.6"/>
<path d="M632.7,378.7 l6,-3.1 v6.2 z" fill="#111"/>
<path d="M679.4,378.7 l-6,-3.1 v6.2 z" fill="#111"/>
<text transform="translate(684.40,333.20) scale(1.0,1.04)" font-size="10.55" text-anchor="start" fill="#1c1c1c" stroke="#1c1c1c" stroke-width="0.08" >nPORRST</text>
<text transform="translate(684.40,347.10) scale(1.0,1.04)" font-size="10.55" text-anchor="start" fill="#1c1c1c" stroke="#1c1c1c" stroke-width="0.08" >nRST</text>
<text transform="translate(684.40,361.20) scale(1.0,1.04)" font-size="10.55" text-anchor="start" fill="#1c1c1c" stroke="#1c1c1c" stroke-width="0.08" >ECLK</text>
<text transform="translate(684.40,382.40) scale(1.0,1.04)" font-size="10.55" text-anchor="start" fill="#1c1c1c" stroke="#1c1c1c" stroke-width="0.08" >nERROR</text>
<rect x="57.2" y="717.80" width="466.0" height="5.2" fill="#000"/>
<rect x="57.05" y="717.8" width="5.1" height="36.7" fill="#000"/>
<rect x="14.1" y="754.5" width="88.5" height="25.9" fill="#ffffff" stroke="#888" stroke-width="1"/>
<text transform="translate(56.60,769.00) scale(1.0,1.035)" font-size="13" text-anchor="middle" fill="#1c1c1c" stroke="#1c1c1c" stroke-width="0.2" >MibADC1</text>
<line x1="17.5" y1="780.4" x2="17.5" y2="804.0" stroke="#3a3a3a" stroke-width="1.1"/>
<text transform="translate(18.60,808.00) rotate(-90) scale(1,1.04)" font-size="10.55" text-anchor="end" fill="#1c1c1c" stroke="#1c1c1c" stroke-width="0.08">VCCAD</text>
<line x1="30.5" y1="780.4" x2="30.5" y2="804.0" stroke="#3a3a3a" stroke-width="1.1"/>
<text transform="translate(32.20,808.00) rotate(-90) scale(1,1.04)" font-size="10.55" text-anchor="end" fill="#1c1c1c" stroke="#1c1c1c" stroke-width="0.08">VSSAD</text>
<line x1="43.5" y1="780.4" x2="43.5" y2="804.0" stroke="#3a3a3a" stroke-width="1.1"/>
<text transform="translate(45.20,808.00) rotate(-90) scale(1,1.04)" font-size="10.55" text-anchor="end" fill="#1c1c1c" stroke="#1c1c1c" stroke-width="0.08">ADREFHI</text>
<line x1="58.5" y1="780.4" x2="58.5" y2="804.0" stroke="#3a3a3a" stroke-width="1.1"/>
<text transform="translate(59.80,808.00) rotate(-90) scale(1,1.04)" font-size="10.55" text-anchor="end" fill="#1c1c1c" stroke="#1c1c1c" stroke-width="0.08">ADREFLO</text>
<line x1="72.5" y1="780.4" x2="72.5" y2="804.0" stroke="#3a3a3a" stroke-width="1.1"/>
<text transform="translate(74.40,808.00) rotate(-90) scale(1,1.04)" font-size="10.55" text-anchor="end" fill="#1c1c1c" stroke="#1c1c1c" stroke-width="0.08">AD1EVT</text>
<line x1="87.5" y1="780.4" x2="87.5" y2="804.0" stroke="#3a3a3a" stroke-width="1.1"/>
<text transform="translate(89.00,808.00) rotate(-90) scale(1,1.04)" font-size="10.55" text-anchor="end" fill="#1c1c1c" stroke="#1c1c1c" stroke-width="0.08">AD1IN[7:0]</text>
<line x1="99.5" y1="780.4" x2="99.5" y2="804.0" stroke="#3a3a3a" stroke-width="1.1"/>
<text transform="translate(101.40,808.00) rotate(-90) scale(1,1.04)" font-size="10.55" text-anchor="end" fill="#1c1c1c" stroke="#1c1c1c" stroke-width="0.08">AD1IN[23:8]</text>
<rect x="156.55" y="717.8" width="5.1" height="36.7" fill="#000"/>
<rect x="108.5" y="754.5" width="93.0" height="25.9" fill="#a8a8a8" stroke="#888" stroke-width="1"/>
<text transform="translate(157.00,769.30) scale(1.0,1.035)" font-size="13" text-anchor="middle" fill="#1c1c1c" stroke="#1c1c1c" stroke-width="0.2" >MibADC2</text>
<line x1="125.5" y1="780.4" x2="125.5" y2="804.0" stroke="#3a3a3a" stroke-width="1.1"/>
<text transform="translate(126.70,808.00) rotate(-90) scale(1,1.04)" font-size="10.55" text-anchor="end" fill="#1c1c1c" stroke="#1c1c1c" stroke-width="0.08">AD2IN[15:0]</text>
<line x1="139.5" y1="780.4" x2="139.5" y2="804.0" stroke="#3a3a3a" stroke-width="1.1"/>
<text transform="translate(140.70,808.00) rotate(-90) scale(1,1.04)" font-size="10.55" text-anchor="end" fill="#1c1c1c" stroke="#1c1c1c" stroke-width="0.08">AD2EVT</text>
<line x1="151.5" y1="780.4" x2="151.5" y2="804.0" stroke="#3a3a3a" stroke-width="1.1"/>
<text transform="translate(153.40,808.00) rotate(-90) scale(1,1.04)" font-size="10.55" text-anchor="end" fill="#1c1c1c" stroke="#1c1c1c" stroke-width="0.08">VCCAD</text>
<line x1="166.5" y1="780.4" x2="166.5" y2="804.0" stroke="#3a3a3a" stroke-width="1.1"/>
<text transform="translate(167.80,808.00) rotate(-90) scale(1,1.04)" font-size="10.55" text-anchor="end" fill="#1c1c1c" stroke="#1c1c1c" stroke-width="0.08">VSSAD</text>
<line x1="181.5" y1="780.4" x2="181.5" y2="804.0" stroke="#3a3a3a" stroke-width="1.1"/>
<text transform="translate(182.60,808.00) rotate(-90) scale(1,1.04)" font-size="10.55" text-anchor="end" fill="#1c1c1c" stroke="#1c1c1c" stroke-width="0.08">ADREFHI</text>
<line x1="195.5" y1="780.4" x2="195.5" y2="804.0" stroke="#3a3a3a" stroke-width="1.1"/>
<text transform="translate(197.00,808.00) rotate(-90) scale(1,1.04)" font-size="10.55" text-anchor="end" fill="#1c1c1c" stroke="#1c1c1c" stroke-width="0.08">ADREFLO</text>
<rect x="237.55" y="717.8" width="5.1" height="36.7" fill="#000"/>
<rect x="209.6" y="754.5" width="58.4" height="25.9" fill="#ffffff" stroke="#888" stroke-width="1"/>
<text transform="translate(235.80,768.60) scale(1.0,1.035)" font-size="13" text-anchor="middle" fill="#1c1c1c" stroke="#1c1c1c" stroke-width="0.2" >N2HET1</text>
<line x1="229.5" y1="780.4" x2="229.5" y2="804.0" stroke="#3a3a3a" stroke-width="1.1"/>
<text transform="translate(231.40,808.00) rotate(-90) scale(1,1.04)" font-size="10.55" text-anchor="end" fill="#1c1c1c" stroke="#1c1c1c" stroke-width="0.08">N2HET1[31:0]</text>
<line x1="246.5" y1="780.4" x2="246.5" y2="804.0" stroke="#3a3a3a" stroke-width="1.1"/>
<text transform="translate(248.50,808.00) rotate(-90) scale(1,1.04)" font-size="10.55" text-anchor="end" fill="#1c1c1c" stroke="#1c1c1c" stroke-width="0.08">N2HET1_PIN_nDIS</text>
<rect x="300.05" y="717.8" width="5.1" height="36.7" fill="#000"/>
<rect x="274.4" y="754.5" width="58.9" height="25.9" fill="#a8a8a8" stroke="#888" stroke-width="1"/>
<text transform="translate(304.40,768.60) scale(1.0,1.035)" font-size="13" text-anchor="middle" fill="#1c1c1c" stroke="#1c1c1c" stroke-width="0.2" >N2HET2</text>
<line x1="284.5" y1="780.4" x2="284.5" y2="804.0" stroke="#3a3a3a" stroke-width="1.1"/>
<text transform="translate(286.00,808.00) rotate(-90) scale(1,1.04)" font-size="10.55" text-anchor="end" fill="#1c1c1c" stroke="#1c1c1c" stroke-width="0.08">N2HET2[15:0]</text>
<line x1="304.5" y1="780.4" x2="304.5" y2="804.0" stroke="#3a3a3a" stroke-width="1.1"/>
<text transform="translate(305.80,808.00) rotate(-90) scale(1,1.04)" font-size="10.55" text-anchor="end" fill="#1c1c1c" stroke="#1c1c1c" stroke-width="0.08">N2HET2[18,16]</text>
<line x1="324.5" y1="780.4" x2="324.5" y2="804.0" stroke="#3a3a3a" stroke-width="1.1"/>
<text transform="translate(326.10,808.00) rotate(-90) scale(1,1.04)" font-size="10.55" text-anchor="end" fill="#1c1c1c" stroke="#1c1c1c" stroke-width="0.08">N2HET2_PIN_nDIS</text>
<rect x="358.85" y="717.8" width="5.1" height="36.7" fill="#000"/>
<rect x="340.8" y="754.5" width="39.8" height="25.9" fill="#ffffff" stroke="#888" stroke-width="1"/>
<text transform="translate(359.50,768.60) scale(1.0,1.035)" font-size="13" text-anchor="middle" fill="#1c1c1c" stroke="#1c1c1c" stroke-width="0.2" >GIO</text>
<line x1="351.5" y1="780.4" x2="351.5" y2="804.0" stroke="#3a3a3a" stroke-width="1.1"/>
<text transform="translate(352.80,808.00) rotate(-90) scale(1,1.04)" font-size="10.55" text-anchor="end" fill="#1c1c1c" stroke="#1c1c1c" stroke-width="0.08">GIOA[7:0]</text>
<line x1="371.5" y1="780.4" x2="371.5" y2="804.0" stroke="#3a3a3a" stroke-width="1.1"/>
<text transform="translate(373.10,808.00) rotate(-90) scale(1,1.04)" font-size="10.55" text-anchor="end" fill="#1c1c1c" stroke="#1c1c1c" stroke-width="0.08">GIOB[7:0]</text>
<rect x="426.25" y="717.8" width="5.1" height="36.7" fill="#000"/>
<rect x="387.6" y="754.5" width="76.2" height="25.9" fill="#ea7f1f" stroke="#b86018" stroke-width="1"/>
<text transform="translate(427.60,767.60) scale(1.0,1.035)" font-size="13" text-anchor="middle" fill="#1c1c1c" stroke="#1c1c1c" stroke-width="0.2" >FlexRay</text>
<line x1="390.5" y1="780.4" x2="390.5" y2="804.0" stroke="#3a3a3a" stroke-width="1.1"/>
<text transform="translate(392.50,808.00) rotate(-90) scale(1,1.04)" font-size="10.55" text-anchor="end" fill="#1c1c1c" stroke="#1c1c1c" stroke-width="0.08">FRAY_RX1</text>
<line x1="404.5" y1="780.4" x2="404.5" y2="804.0" stroke="#3a3a3a" stroke-width="1.1"/>
<text transform="translate(406.30,808.00) rotate(-90) scale(1,1.04)" font-size="10.55" text-anchor="end" fill="#1c1c1c" stroke="#1c1c1c" stroke-width="0.08">FRAY_TX1</text>
<line x1="417.5" y1="780.4" x2="417.5" y2="804.0" stroke="#3a3a3a" stroke-width="1.1"/>
<text transform="translate(418.70,808.00) rotate(-90) scale(1,1.04)" font-size="10.55" text-anchor="end" fill="#1c1c1c" stroke="#1c1c1c" stroke-width="0.08">FRAY_TXEN1</text>
<line x1="431.5" y1="780.4" x2="431.5" y2="804.0" stroke="#3a3a3a" stroke-width="1.1"/>
<text transform="translate(433.40,808.00) rotate(-90) scale(1,1.04)" font-size="10.55" text-anchor="end" fill="#1c1c1c" stroke="#1c1c1c" stroke-width="0.08">FRAY_RX2</text>
<line x1="446.5" y1="780.4" x2="446.5" y2="804.0" stroke="#3a3a3a" stroke-width="1.1"/>
<text transform="translate(448.20,808.00) rotate(-90) scale(1,1.04)" font-size="10.55" text-anchor="end" fill="#1c1c1c" stroke="#1c1c1c" stroke-width="0.08">FRAY_TX2</text>
<line x1="460.5" y1="780.4" x2="460.5" y2="804.0" stroke="#3a3a3a" stroke-width="1.1"/>
<text transform="translate(462.50,808.00) rotate(-90) scale(1,1.04)" font-size="10.55" text-anchor="end" fill="#1c1c1c" stroke="#1c1c1c" stroke-width="0.08">FRAY_TXEN2</text>
<rect x="490.95" y="717.8" width="5.1" height="36.7" fill="#000"/>
<rect x="472.5" y="754.5" width="39.3" height="25.9" fill="#a8a8a8" stroke="#888" stroke-width="1"/>
<text transform="translate(490.30,768.80) scale(1.0,1.035)" font-size="13" text-anchor="middle" fill="#1c1c1c" stroke="#1c1c1c" stroke-width="0.2" >I2C</text>
<line x1="481.5" y1="780.4" x2="481.5" y2="804.0" stroke="#3a3a3a" stroke-width="1.1"/>
<text transform="translate(483.40,808.00) rotate(-90) scale(1,1.04)" font-size="10.55" text-anchor="end" fill="#1c1c1c" stroke="#1c1c1c" stroke-width="0.08">I2C_SDA</text>
<line x1="502.5" y1="780.4" x2="502.5" y2="804.0" stroke="#3a3a3a" stroke-width="1.1"/>
<text transform="translate(503.80,808.00) rotate(-90) scale(1,1.04)" font-size="10.55" text-anchor="end" fill="#1c1c1c" stroke="#1c1c1c" stroke-width="0.08">I2C_SCL</text>
</svg>
</body></html>
